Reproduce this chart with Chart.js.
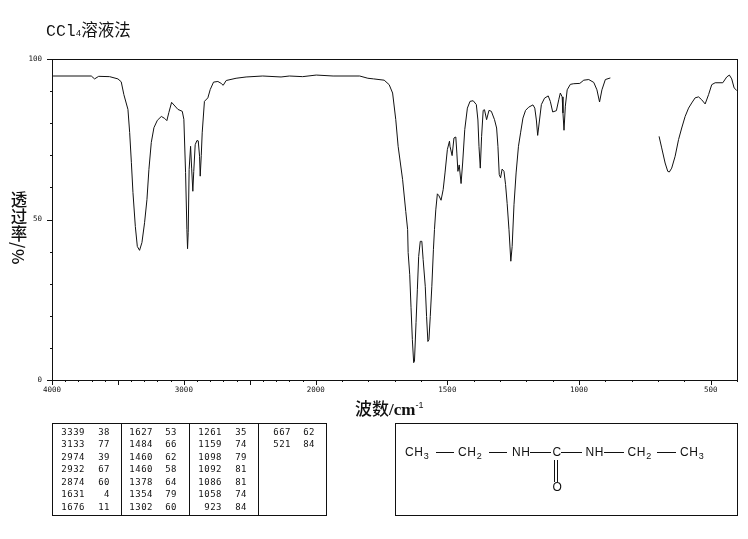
<!DOCTYPE html>
<html>
<head>
<meta charset="utf-8">
<script src="https://cdn.jsdelivr.net/npm/chart.js@4"></script>
<style>
  body { margin: 0; background: #fff; width: 748px; height: 539px; overflow: hidden; position: relative; color: #111; }
  canvas { position: absolute; left: 0; top: 0; }
  .label { position: absolute; white-space: nowrap; }
  #title { left: 46px; top: 17px; font-size: 16.5px; font-family: "Liberation Mono", monospace; }
  #title .cjk { font-family: "Noto Sans CJK SC"; }
  #title .small { font-size: 9px; }
  #ytitle { left: 10px; top: 191px; font-size: 16.5px; line-height: 18px; writing-mode: vertical-rl; letter-spacing: 0.5px; font-family: "Noto Sans CJK SC"; font-weight: 500; }
  #xtitle { left: 355px; top: 395px; font-size: 17px; font-family: "Noto Sans CJK SC"; font-weight: 500; }
  #xtitle .unit { font-family: "Liberation Serif", serif; font-weight: 700; }
  #xtitle sup { font: 9px "Liberation Sans", sans-serif; line-height: 0; }
  .box { position: absolute; border: 1px solid #111; box-sizing: border-box; }
  .cell { position: absolute; font: 9px "DejaVu Sans Mono", monospace; letter-spacing: 0.5px; white-space: pre; text-align: right; }
  .formula { position: absolute; font: 12px "Liberation Sans", sans-serif; letter-spacing: 0.7px; white-space: pre; }
  .formula sub { font-size: 9px; line-height: 0; }
  .rule { position: absolute; background: #111; }
</style>
</head>
<body>
<canvas id="spectrum" width="748" height="539"></canvas>
<div id="title" class="label">CCl<span class="small">4</span><span class="cjk">溶液法</span></div>
<div id="ytitle" class="label">透过率/%</div>
<div id="xtitle" class="label">波数<span class="unit">/cm</span><sup>-1</sup></div>
<div id="tableBox"></div>
<div id="structure"></div>
<script>
// upper trace, 4000 to 881 cm-1
var waveA = [3992,3702,3677,3646,3563,3500,3475,3455,3424,3411,3398,3386,3368,3353,3336,3318,3298,3280,3265,3247,3227,3201,3171,3146,3129,3114,3093,3045,3012,3000,2987,2977,2972,2967,2960,2949,2941,2932,2925,2914,2901,2891,2881,2876,2868,2861,2844,2818,2800,2775,2742,2717,2702,2679,2604,2528,2402,2263,2200,2099,1998,1934,1833,1802,1780,1740,1721,1708,1696,1687,1670,1658,1651,1649,1643,1638,1633,1628,1625,1619,1614,1609,1603,1597,1592,1584,1579,1574,1570,1565,1559,1553,1549,1544,1538,1532,1524,1516,1509,1500,1492,1490,1482,1475,1468,1464,1460,1455,1448,1442,1434,1424,1414,1402,1390,1384,1380,1375,1370,1364,1359,1351,1342,1333,1321,1313,1308,1303,1298,1292,1285,1279,1273,1266,1259,1254,1247,1239,1230,1222,1213,1203,1191,1175,1168,1162,1157,1150,1143,1131,1117,1109,1100,1086,1077,1071,1064,1061,1057,1052,1045,1033,1020,997,982,963,944,932,922,913,900,881];
var transA = [94.7,94.7,93.8,94.6,94.5,93.8,92.9,88.9,84.3,77.1,67.7,58.4,47.8,41.6,40.4,42.8,49,56.2,65.6,74,78.6,80.9,82.1,81.5,80.8,83.3,86.5,84.3,83.7,81.2,64.6,46.9,40.9,46,65.6,72.8,66,58.8,65,73.3,74.6,74.5,69.7,63.5,70,77,86.8,87.9,90.5,92.8,93,92.4,91.8,93.3,94,94.4,94.7,94.4,94.7,94.5,95,94.7,94.7,94,93.8,93.4,92,89.4,81.1,72.8,62.4,52.5,46.9,39.7,32.8,22.5,12.6,5.4,5.8,17.9,28.1,38.5,43.2,43.2,37.5,29.2,19.8,12,12.6,19.8,29.2,40.6,46.9,53,58,57.4,56,59.3,64.5,71.8,74.4,72.8,69.9,75.4,75.7,70.7,65,67,61.2,67.6,78,84.7,86.8,87,85.8,81,72.8,66,75.9,84,84.2,81.1,84,83.7,81.1,78.5,72.8,64,63,65.7,65,60.9,55,46.8,37,41.6,54.6,64.5,72.8,77,81.6,84,85,85.7,84.7,81,76.2,81,85.8,87.8,88.5,86.8,83.5,83.9,87.3,89.4,88.2,83.2,77.8,85.3,90.4,92.1,92.3,92.4,93.4,93.6,92.7,90.4,86.6,90.4,93.6,94.1];
// lower wavenumber trace after the gap
var waveB = [696,686,673,663,657,648,635,622,610,597,584,572,559,546,534,521,508,496,483,454,439,429,420,411,401];
var transB = [75.9,72.3,67.6,65,64.8,66,69.7,74.9,78.5,82.1,84.7,86.3,87.9,88.2,87.3,86,88.9,92,92.6,92.6,94.4,95,93.8,91,90.2];

var xMajorTicks = [4000,3000,2000,1500,1000,500];
var yMajorTicks = [100,50,0];

// peak table, four columns of wavenumber and transmittance
var peakWaves = [
  [3339,3133,2974,2932,2874,1631,1676],
  [1627,1484,1460,1460,1378,1354,1302],
  [1261,1159,1098,1092,1086,1058,923],
  [667,521]
];
var peakTrans = [
  [38,77,39,67,60,4,11],
  [53,66,62,58,64,79,60],
  [35,74,79,81,81,74,84],
  [62,84]
];

// the wavenumber axis changes scale at 2000 cm-1
class SpectrumScale extends Chart.LinearScale {
  getPixelForValue(v) {
    var frac = v >= 2000 ? (4000 - v) / 2000 * 0.385 : 0.385 + (2000 - v) / 1600 * 0.615;
    return this.left + frac * this.width;
  }
  getValueForPixel(p) {
    var frac = (p - this.left) / this.width;
    return frac <= 0.385 ? 4000 - frac / 0.385 * 2000 : 2000 - (frac - 0.385) / 0.615 * 1600;
  }
}
SpectrumScale.id = 'spectrum';
SpectrumScale.defaults = Chart.LinearScale.defaults;
Chart.register(SpectrumScale);

var toPoints = (xs, ys) => xs.map((x, i) => ({ x: x, y: ys[i] }));

new Chart(document.getElementById('spectrum'), {
  type: 'line',
  data: {
    datasets: [
      { data: toPoints(waveA, transA), borderColor: '#111', borderWidth: 1, pointRadius: 0, tension: 0 },
      { data: toPoints(waveB, transB), borderColor: '#111', borderWidth: 1, pointRadius: 0, tension: 0 }
    ]
  },
  options: {
    responsive: false,
    animation: false,
    devicePixelRatio: 1,
    layout: { padding: { left: 0, top: 59, right: 11, bottom: 0 } },
    plugins: { legend: { display: false }, tooltip: { enabled: false } },
    scales: {
      x: {
        type: 'spectrum',
        min: 400,
        max: 4000,
        afterFit: s => { s.height = 159; },
        afterBuildTicks: s => {
          var t = [];
          for (var v = 4000; v >= 400; v -= 100) t.push({ value: v, major: xMajorTicks.includes(v) });
          s.ticks = t;
        },
        border: { color: '#111', width: 1 },
        grid: { display: false, drawTicks: false },
        ticks: {
          autoSkip: false, maxRotation: 0, color: '#111', padding: 6,
          font: { family: 'DejaVu Sans Mono', size: 7.5 },
          callback: v => xMajorTicks.includes(v) ? String(v) : ''
        }
      },
      y: {
        min: 0,
        max: 100,
        afterFit: s => { s.width = 52; },
        afterBuildTicks: s => {
          var t = [];
          for (var v = 0; v <= 100; v += 10) t.push({ value: v });
          s.ticks = t;
        },
        border: { color: '#111', width: 1 },
        grid: { display: false, drawTicks: false },
        ticks: {
          autoSkip: false, color: '#111', padding: 10,
          font: { family: 'DejaVu Sans Mono', size: 7.5 },
          callback: v => yMajorTicks.includes(v) ? String(v) : ''
        }
      }
    }
  },
  plugins: [{
    id: 'frame',
    beforeDatasetsDraw(chart) {
      var c = chart.ctx, a = chart.chartArea, x = chart.scales.x, y = chart.scales.y;
      c.save();
      c.strokeStyle = '#111';
      c.lineWidth = 1;
      c.strokeRect(a.left + 0.5, a.top + 0.5, a.width, a.height);
      c.beginPath();
      x.ticks.forEach(t => {
        var p = Math.round(x.getPixelForValue(t.value)) + 0.5;
        c.moveTo(p, a.bottom);
        c.lineTo(p, a.bottom + (t.value % 500 === 0 ? 5 : 2));
      });
      y.ticks.forEach(t => {
        var p = Math.round(y.getPixelForValue(t.value)) + 0.5;
        c.moveTo(a.left - (t.value % 50 === 0 ? 5 : 2), p);
        c.lineTo(a.left, p);
      });
      c.stroke();
      c.restore();
    }
  }]
});

// peak table
var tableBox = document.getElementById('tableBox');
var addBox = (parent, l, t, w, h) => {
  var d = document.createElement('div');
  d.className = 'box';
  d.style.cssText = `left:${l}px;top:${t}px;width:${w}px;height:${h}px`;
  parent.appendChild(d);
};
var addRule = (parent, l, t, w, h) => {
  var r = document.createElement('div');
  r.className = 'rule';
  r.style.cssText = `left:${l}px;top:${t}px;width:${w}px;height:${h}px`;
  parent.appendChild(r);
};
var addCell = (text, right, top) => {
  var d = document.createElement('div');
  d.className = 'cell';
  d.textContent = text;
  d.style.right = (748 - right) + 'px';
  d.style.top = top + 'px';
  tableBox.appendChild(d);
};
addBox(tableBox, 52, 423, 275, 93);
[121, 189, 258].forEach(l => addRule(tableBox, l, 423, 1, 93));
var waveRight = [85, 153, 222, 291];
var transRight = [110, 177, 247, 315];
peakWaves.forEach((col, c) => {
  col.forEach((w, i) => {
    var top = 426.5 + i * 12.5;
    addCell(String(w), waveRight[c], top);
    addCell(String(peakTrans[c][i]), transRight[c], top);
  });
});

// structure drawing
var structure = document.getElementById('structure');
addBox(structure, 395, 423, 343, 93);
var groups = [["CH<sub>3</sub>", 405], ["CH<sub>2</sub>", 458], ["NH", 512], ["C", 552.5], ["NH", 585.5], ["CH<sub>2</sub>", 627.5], ["CH<sub>3</sub>", 680]];
groups.forEach(g => {
  var d = document.createElement('div');
  d.className = 'formula';
  d.innerHTML = g[0];
  d.style.left = g[1] + 'px';
  d.style.top = '445px';
  structure.appendChild(d);
});
var oxygen = document.createElement('div');
oxygen.className = 'formula';
oxygen.textContent = 'O';
oxygen.style.cssText = 'left:552.5px;top:480px';
structure.appendChild(oxygen);
[[436,18],[489,18],[530,21],[561,21],[604,20],[657,19]].forEach(b => addRule(structure, b[0], 452, b[1], 1));
[554, 557].forEach(l => addRule(structure, l, 460, 1, 22));
</script>
</body>
</html>
